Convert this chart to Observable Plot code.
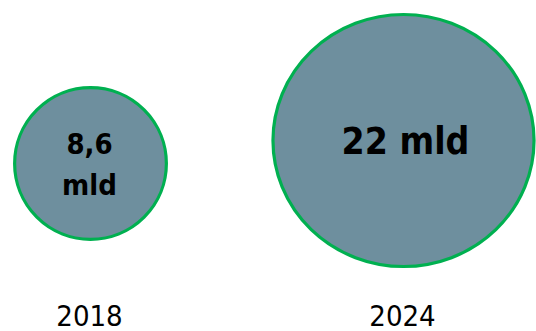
<!DOCTYPE html>
<html>
<head>
<meta charset="utf-8">
<script src="https://cdn.jsdelivr.net/npm/d3@7"></script>
<script src="https://cdn.jsdelivr.net/npm/@observablehq/plot@0.6"></script>
<style>
  html, body { margin: 0; padding: 0; background: #ffffff; }
  svg { display: block; }
</style>
</head>
<body>
<div id="chart"></div>
<script>
const years = ["2018", "2024"];
const values = [8.6, 22];
const valueLabels = ["8,6\nmld", "22 mld"];

const data = years.map((year, i) => ({year, value: values[i], label: valueLabels[i]}));

const fillColor = "#6E8F9E";
const strokeColor = "#00B050";

// slight horizontal stretch of the large bubble, as in the reference
function stretchRender(index, scales, values, dimensions, context, next) {
  const g = next(index, scales, values, dimensions, context);
  const circles = g.querySelectorAll("circle");
  circles.forEach((c, k) => {
    const d = data[index[k]];
    if (d && d.year === "2024") {
      const cx = +c.getAttribute("cx"), cy = +c.getAttribute("cy");
      c.setAttribute("transform", `translate(${cx},${cy}) scale(1.036,1) translate(${-cx},${-cy})`);
      c.setAttribute("vector-effect", "non-scaling-stroke");
    }
  });
  return g;
}

const chart = Plot.plot({
  width: 536,
  height: 331,
  margin: 0,
  style: {background: "#ffffff", fontFamily: "'DejaVu Sans Condensed', 'DejaVu Sans', sans-serif", color: "#000000"},
  x: {type: "point", domain: years, range: [90, 403], padding: 0, axis: null},
  y: {type: "point", domain: years, range: [163.5, 140], padding: 0, axis: null},
  r: {type: "pow", exponent: 0.54, domain: [0, 22], range: [0, 126]},
  marks: [
    Plot.dot(data, {
      x: "year", y: "year", r: "value",
      fill: fillColor, stroke: strokeColor, strokeWidth: 3.2,
      render: stretchRender
    }),
    Plot.text(data.filter(d => d.year === "2018"), {
      x: "year", y: "year", text: "label",
      fontSize: 29, fontWeight: "bold", lineHeight: 1.42,
      fill: "#000000", dx: -1, dy: -2.5
    }),
    Plot.text(data.filter(d => d.year === "2024"), {
      x: "year", y: "year", text: "label",
      fontSize: 37, fontWeight: "bold",
      fill: "#000000", dx: 2, dy: 2
    }),
    Plot.text(years, {
      x: d => d, frameAnchor: "bottom", lineAnchor: "bottom",
      fontSize: 29, fill: "#000000", dx: -1, dy: -6
    })
  ]
});

document.getElementById("chart").appendChild(chart);
</script>
</body>
</html>
